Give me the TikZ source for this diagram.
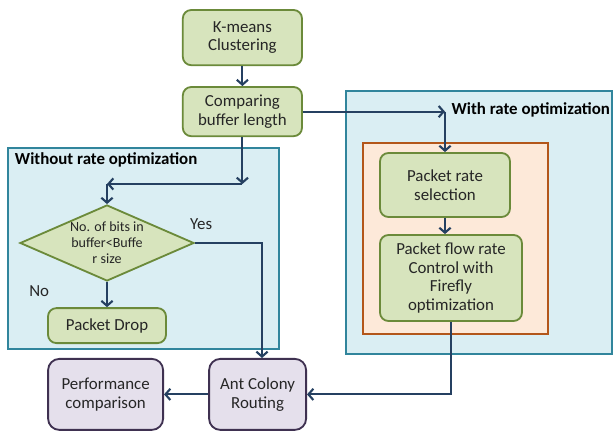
\documentclass[tikz,border=0pt]{standalone}
\usepackage{fontspec}
\setmainfont{Carlito}
\usetikzlibrary{shapes.geometric,arrows.meta}
\definecolor{panelblue}{HTML}{DAEEF3}
\definecolor{panelline}{HTML}{31859C}
\definecolor{boxorange}{HTML}{FDE9D9}
\definecolor{orangeline}{HTML}{B3561A}
\definecolor{stepgreen}{HTML}{D7E4BD}
\definecolor{greenline}{HTML}{6B8A3A}
\definecolor{steppurple}{HTML}{E5E0EC}
\definecolor{purpleline}{HTML}{3F3151}
\definecolor{wire}{HTML}{254061}
\tikzset{
	greenbox/.style={draw=greenline, fill=stepgreen, line width=1.3pt, rounded corners=6pt, align=center, text=black!85, font=\fontsize{12}{13.2}\selectfont, inner sep=2pt},
	purplebox/.style={draw=purpleline, fill=steppurple, line width=1.3pt, rounded corners=8pt, align=center, text=black!85, font=\fontsize{12}{13.2}\selectfont, inner sep=2pt},
	wireto/.style={draw=wire, line width=1.5pt, -{Straight Barb[length=3.5pt,width=8pt]}},
	wireline/.style={draw=wire, line width=1.5pt}
}

\begin{document}
\begin{tikzpicture}
	\useasboundingbox (0, 0) rectangle (15.35, 10.8);
	% Panels:
	\draw[fill=panelblue, draw=panelline, line width=1.1pt] (0.2, 7.1) rectangle (6.975, 2.075);
	\draw[fill=panelblue, draw=panelline, line width=1.1pt] (8.65, 8.525) rectangle (15.3, 1.95);
	\draw[fill=boxorange, draw=orangeline, line width=1.1pt] (9.075, 7.225) rectangle (13.7, 2.45);
	\node[anchor=west, font=\fontsize{12}{13}\selectfont\bfseries] (lefttitle) at (0.25, 6.8){Without rate optimization};
	\node[font=\fontsize{12}{13}\selectfont\bfseries] (righttitle) at (13.27, 8.05){With rate optimization};
	% Nodes:
	\node[greenbox, minimum width=2.98cm, minimum height=1.38cm] (kmeans) at (6.06, 9.86){K-means\\Clustering};
	\node[greenbox, minimum width=2.98cm, minimum height=1.23cm] (compare) at (6.06, 8.01){Comparing\\buffer length};
	\node[diamond, aspect=2.3, draw=greenline, fill=stepgreen, line width=1.3pt, align=center, text=black!85, font=\fontsize{10}{11.4}\selectfont, minimum width=4.35cm, minimum height=1.9cm, inner sep=0pt] (bits) at (2.675, 4.725){No. of bits in\\buffer<Buffe\\r size};
	\node[greenbox, minimum width=2.95cm, minimum height=0.875cm] (drop) at (2.675, 2.66){Packet Drop};
	\node[greenbox, minimum width=3.25cm, minimum height=1.6cm] (rate) at (11.125, 6.175){Packet rate\\selection};
	\node[greenbox, minimum width=3.55cm, minimum height=2.15cm] (flow) at (11.275, 3.85){Packet flow rate\\Control with\\Firefly\\optimization};
	\node[purplebox, minimum width=2.875cm, minimum height=1.775cm] (perf) at (2.64, 0.94){Performance\\comparison};
	\node[purplebox, minimum width=2.425cm, minimum height=1.775cm] (ant) at (6.44, 0.94){Ant Colony\\Routing};
	\node[font=\fontsize{12}{13}\selectfont, text=black!85] (yes) at (5.03, 5.2){Yes};
	\node[font=\fontsize{12}{13}\selectfont, text=black!85] (no) at (0.98, 3.525){No};
	% Wires:
	\coordinate (cornerright) at (rate.north |- compare.east);
	\coordinate (cornerdown) at (6.06, 6.2);
	\coordinate (cornerleft) at (bits.north |- cornerdown);
	\coordinate (corneryes) at (6.55, 4.725);
	\draw[wireto] (kmeans) -- (compare);
	\draw[wireto] (compare.east) -- (cornerright);
	\draw[wireto] (cornerright) -- (rate.north);
	\draw[wireto] (compare.south) -- (cornerdown);
	\draw[wireto] (cornerdown) -- (cornerleft);
	\draw[wireto] (cornerleft) -- (bits.north);
	\draw[wireto] (bits.south) -- (drop.north);
	\draw[wireto] (rate.south) -- (rate.south |- flow.north);
	\draw[wireto] (bits.east) -- (corneryes) -- (corneryes |- ant.north);
	\draw[wireto] (flow.south) |- (ant.east);
	\draw[wireto] (ant.west) -- (perf.east);
\end{tikzpicture}
\end{document}
